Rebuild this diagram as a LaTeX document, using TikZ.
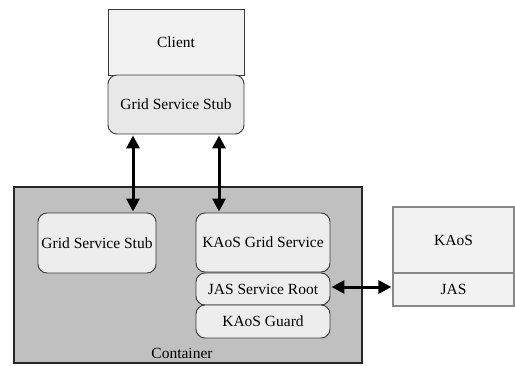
\documentclass[tikz,border=0pt]{standalone}
\usepackage{fontspec}
\setmainfont{Liberation Serif}
\usetikzlibrary{arrows.meta}
\definecolor{boxfill}{HTML}{F2F2F2}
\definecolor{stubfill}{HTML}{E8E8E8}
\definecolor{innerfill}{HTML}{EDEDED}
\definecolor{contfill}{HTML}{C0C0C0}
\definecolor{edge}{HTML}{3A3A3A}
\definecolor{grayedge}{HTML}{888888}
\tikzset{
  base/.style={draw=edge, line width=0.9pt, inner sep=0pt, font=\fontsize{15.5}{18}\selectfont, text=black},
  plainbox/.style={base, rectangle, fill=boxfill},
  roundbox/.style={base, rectangle, rounded corners=9pt, fill=stubfill},
  innerbox/.style={base, rectangle, rounded corners=9pt, fill=innerfill},
  extbox/.style={base, rectangle, draw=grayedge, line width=1.2pt, fill=boxfill},
  container/.style={draw=black!85, line width=1.3pt, fill=contfill, rectangle, inner sep=0pt},
  arr/.style={{Triangle[length=13pt,width=13pt]}-{Triangle[length=13pt,width=13pt]}, line width=3pt, black, shorten <=1pt, shorten >=1pt},
}
\begin{document}
\begin{tikzpicture}[x=1pt, y=-1pt]
\useasboundingbox (0,0) rectangle (515,365);
% container
\node[container, minimum width=348pt, minimum height=176pt] (cont) at (188,275) {};
\node[font=\fontsize{15.5}{18}\selectfont] (contlabel) at (182,353) {Container};
% client
\node[plainbox, minimum width=136pt, minimum height=66pt] (client) at (176,42) {Client};
\node[roundbox, minimum width=136pt, minimum height=59pt] (stubtop) at (176,104.5) {Grid Service Stub};
% inner boxes
\node[innerbox, minimum width=118pt, minimum height=60pt] (stubin) at (97,243) {Grid Service Stub};
\node[innerbox, minimum width=134pt, minimum height=59pt] (kgs) at (263,242.5) {KAoS Grid Service};
\node[innerbox, minimum width=134pt, minimum height=32pt] (jsr) at (263,289) {JAS Service Root};
\node[innerbox, minimum width=134pt, minimum height=33pt] (guard) at (263,321.5) {KAoS Guard};
% external
\node[extbox, minimum width=121pt, minimum height=66pt] (kaos) at (453.5,240) {KAoS};
\node[extbox, minimum width=121pt, minimum height=33pt] (jas) at (453.5,289.5) {JAS};
% arrows
\coordinate (ax1) at (133,0);
\coordinate (ax2) at (219,0);
\draw[arr] (ax1 |- stubtop.south) -- (ax1 |- stubin.north);
\draw[arr] (ax2 |- stubtop.south) -- (ax2 |- kgs.north);
\draw[arr] (jsr.east) ++(0pt,2pt) coordinate (hstart) -- (hstart -| jas.west);
\end{tikzpicture}
\end{document}
